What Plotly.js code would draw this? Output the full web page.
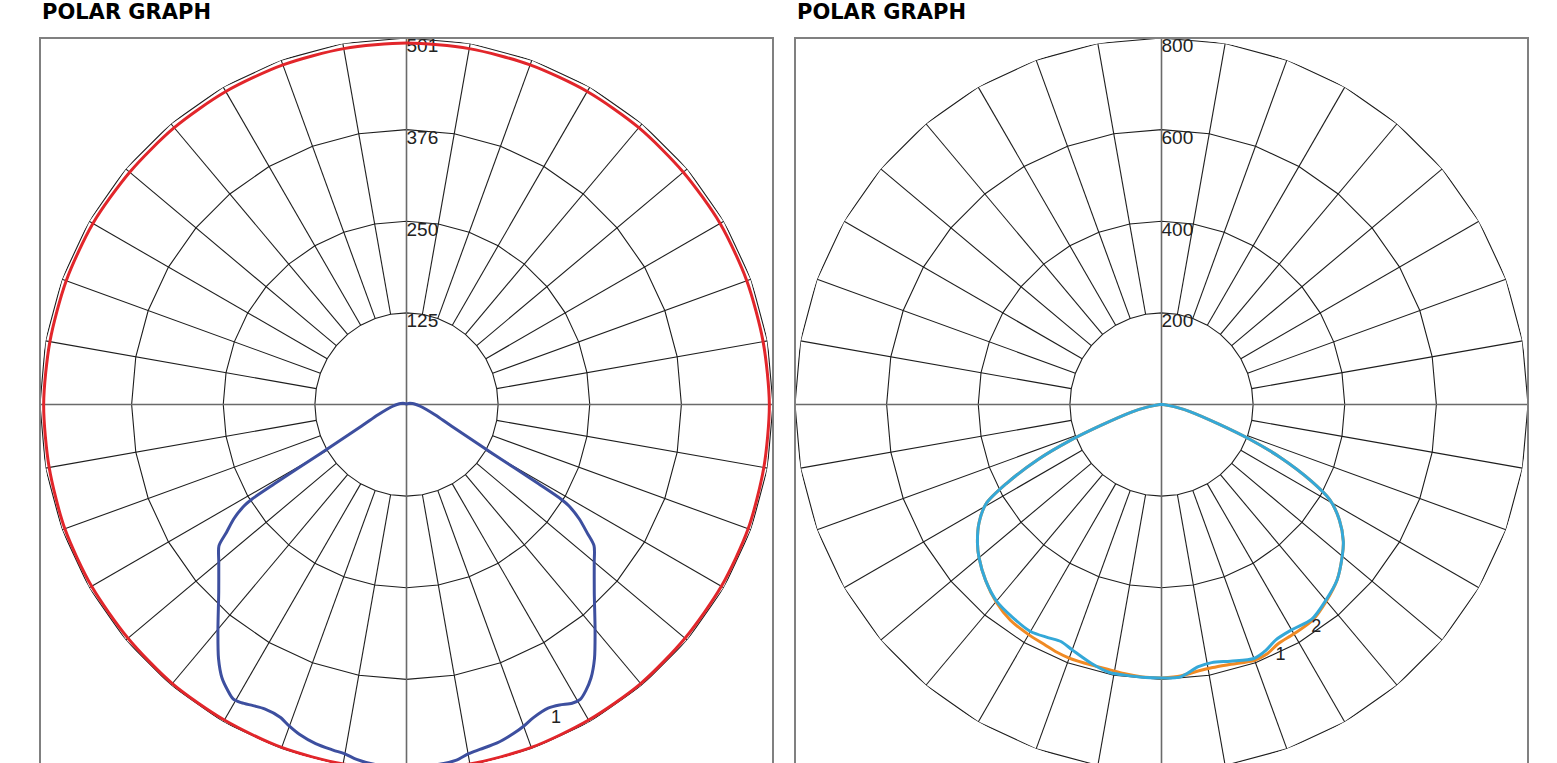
<!DOCTYPE html>
<html><head><meta charset="utf-8">
<script src="https://cdn.plot.ly/plotly-3.0.1.min.js"></script>
<style>html,body{margin:0;padding:0;overflow:hidden;background:#fff}#chart{width:1557px;height:800px}</style>
</head><body><div id="chart"></div>
<script>
// ---------- Left chart (scale 0..501) ----------
const ringValuesL = [125.25, 250.5, 375.75, 501];
const ringLabelsL = ['125', '250', '376', '501'];
// Curve 1 (C0 / C180), gamma in degrees from nadir
const gammaL1 = [0,5,8,10,12,15,18,20,22,25,27,29,30.5,32,34,36.5,40,45,50,53,54.6,56.5,58,58.5,59,60.3,64.3,70,76,80,85,90,100,120,150,180];
const c0L1   = [496,494,491,485,482,479,473,468,462,458,461,467,468,462,451,432,401,363,335,321,303,283,262,248,210,137,68,42,28,22,17,13,8,3,1,0.5];
const c180L1 = [496,494,490,485,483,480,474,468,461,459,462,466,467,461,451,432,401,363,335,321,302,283,262,248,210,137,68,42,28,22,17,13,8,3,1,0.5];
// Curve 2 (C90 / C270)
const gammaL2 = [0,10,20,30,40,50,60,70,80,90,100,110,120,130,140,150,160,170,180];
const c90L2  = [499,499,499,498,498,497,497,497,496,496,495,495,495,494,494,494,494,494,494];
const c270L2 = [499,499,499,498,498,497,497,497,496,496,495,495,495,494,494,494,494,494,494];

// ---------- Right chart (scale 0..800) ----------
const ringValuesR = [200, 400, 600, 800];
const ringLabelsR = ['200', '400', '600', '800'];
const gammaR = [0,4,8,11,15,20,23,26,30,35,40,45,50,53,57,60.5,63,66,68.5,71,76,80,85,90,100,180];
// Curve 1 (orange)
const c0R1   = [597,594,587,585,587,594,591,581,578,575,560,542,515,497,463,422,365,283,207,135,64,30,10,3,1,0];
const c180R1 = [597,596,593,590,589,589,587,583,580,575,562,543,520,503,475,440,380,295,215,140,66,30,10,3,1,0];
// Curve 2 (blue)
const c90R2  = [597,596,578,574,580,590,583,571,568,572,558,542,515,497,463,422,365,283,207,135,64,30,10,3,1,0];
const c270R2 = [597,597,596,596,586,570,562,566,572,567,560,543,520,503,475,440,380,295,215,140,66,30,10,3,1,0];

const labelGamma = {L1: 25.5, L2: 111, R1: 25.4, R2: 34.7};
const labelR = {L1: 475, L2: 514, R1: 606, R2: 593};

// ---------- helpers ----------
const spokeAngles = [];
for (let a = 0; a <= 360; a += 10) spokeAngles.push(a);
const GRID = '#1e1e1e';

function gridTraces(sub, rings, labels) {
  const out = [];
  const inner = rings[0], outer = rings[rings.length - 1];
  rings.forEach(v => out.push({type:'scatterpolar', subplot:sub, mode:'lines',
    r: spokeAngles.map(() => v), theta: spokeAngles,
    line:{color:GRID, width:1.1}, hoverinfo:'skip', showlegend:false}));
  const sr = [], st = [], ar = [], at = [];
  spokeAngles.slice(0, 36).forEach(a => {
    if (a % 90 === 0) { ar.push(0, outer, null); at.push(a, a, null); }
    else { sr.push(inner, outer, null); st.push(a, a, null); }
  });
  out.push({type:'scatterpolar', subplot:sub, mode:'lines', r:sr, theta:st,
    line:{color:GRID, width:1.1}, hoverinfo:'skip', showlegend:false, connectgaps:false});
  out.push({type:'scatterpolar', subplot:sub, mode:'lines', r:ar, theta:at,
    line:{color:'#6a6a6a', width:1.6}, hoverinfo:'skip', showlegend:false, connectgaps:false});
  out.push({type:'scatterpolar', subplot:sub, mode:'text', r:rings, theta:rings.map(() => 180),
    text:labels, textposition:'bottom right',
    textfont:{family:'Liberation Sans, Arial, sans-serif', size:19, color:'#222'},
    hoverinfo:'skip', showlegend:false});
  return out;
}

function curve(sub, gamma, a, b, color, width) {
  // a: values on the 0..180 half (right side), b: values on the other half (left side)
  const theta = [], r = [];
  for (let i = gamma.length - 1; i >= 0; i--) { theta.push(360 - gamma[i]); r.push(b[i]); }
  for (let i = 0; i < gamma.length; i++) { theta.push(gamma[i]); r.push(a[i]); }
  return {type:'scatterpolar', subplot:sub, mode:'lines', r:r, theta:theta,
    line:{color:color, width:width, shape:'spline', smoothing:0.8}, hoverinfo:'skip', showlegend:false};
}

function label(sub, g, rr, txt) {
  return {type:'scatterpolar', subplot:sub, mode:'text', r:[rr], theta:[g], text:[txt],
    textposition:'middle center',
    textfont:{family:'Liberation Sans, Arial, sans-serif', size:18, color:'#222'},
    hoverinfo:'skip', showlegend:false};
}

const traces = [].concat(
  gridTraces('polar', ringValuesL, ringLabelsL),
  [curve('polar', gammaL2, c90L2, c270L2, '#e2262b', 3),
   curve('polar', gammaL1, c0L1, c180L1, '#3d4f9f', 3),
   label('polar', labelGamma.L1, labelR.L1, '1'),
   label('polar', labelGamma.L2, labelR.L2, '2')],
  gridTraces('polar2', ringValuesR, ringLabelsR),
  [curve('polar2', gammaR, c0R1, c180R1, '#f08a24', 3),
   curve('polar2', gammaR, c90R2, c270R2, '#34a8d8', 3),
   label('polar2', labelGamma.R1, labelR.R1, '1'),
   label('polar2', labelGamma.R2, labelR.R2, '2')]
);

const W = 1557, H = 800;
const yb = (H - 771) / H, yt = (H - 38) / H;
function polarCfg(x0, x1, rmax) {
  return {domain:{x:[x0 / W, x1 / W], y:[yb, yt]}, bgcolor:'rgba(0,0,0,0)',
    radialaxis:{range:[0, rmax], visible:false, showgrid:false, showline:false},
    angularaxis:{rotation:-90, direction:'counterclockwise', showgrid:false, showline:false,
      ticks:'', showticklabels:false}};
}

const layout = {
  width: W, height: H, margin:{l:0, r:0, t:0, b:0},
  paper_bgcolor:'#fff', plot_bgcolor:'#fff', showlegend:false,
  polar: polarCfg(40, 773, 501),
  polar2: polarCfg(795, 1528, 800),
  shapes: [
    {type:'rect', xref:'paper', yref:'paper', x0:40/W, x1:773/W, y0:yb, y1:yt, line:{color:'#808080', width:2}},
    {type:'rect', xref:'paper', yref:'paper', x0:795/W, x1:1528/W, y0:yb, y1:yt, line:{color:'#808080', width:2}}
  ],
  annotations: [
    {xref:'paper', yref:'paper', x:40/W, y:(H-12)/H, xanchor:'left', yanchor:'middle', showarrow:false,
     text:'<b>POLAR GRAPH</b>', font:{family:'DejaVu Sans', size:21, color:'#000'}},
    {xref:'paper', yref:'paper', x:795/W, y:(H-12)/H, xanchor:'left', yanchor:'middle', showarrow:false,
     text:'<b>POLAR GRAPH</b>', font:{family:'DejaVu Sans', size:21, color:'#000'}}
  ]
};

Plotly.newPlot('chart', traces, layout, {displayModeBar:false, staticPlot:true});
</script></body></html>
